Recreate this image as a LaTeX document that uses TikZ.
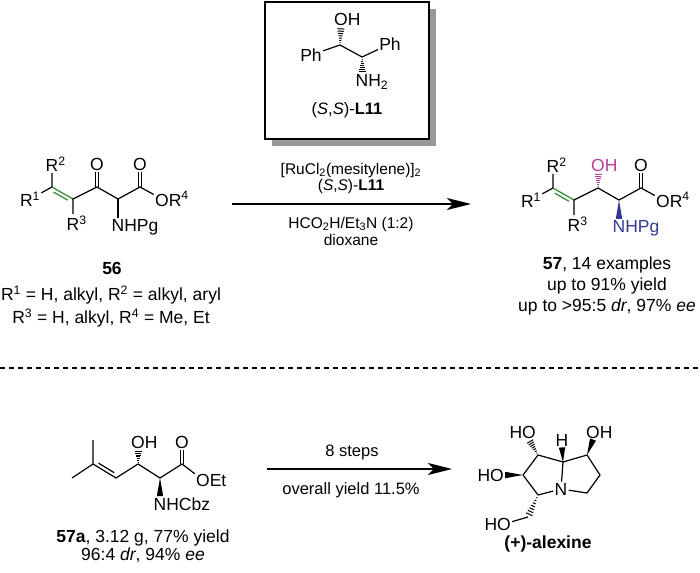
\documentclass[tikz,border=0pt]{standalone}
\usepackage{fontspec}
\setmainfont{Liberation Sans}
\usetikzlibrary{calc,arrows.meta}
\definecolor{dbgreen}{RGB}{52,135,52}
\definecolor{ohpink}{RGB}{186,60,150}
\definecolor{nhblue}{RGB}{48,58,145}
\tikzset{%
  bond/.style = {line width=1.2pt},
  atom/.style = {inner sep=1.2pt, font=\fontsize{17.5}{19}\selectfont},
  note/.style = {inner sep=0pt, font=\fontsize{17.5}{20}\selectfont},
  cond/.style = {inner sep=0pt, font=\fontsize{15.5}{17}\selectfont},
  rxn/.style = {line width=1.4pt, -{Stealth[length=24pt,width=12pt,inset=6pt]}}
}
% hashed bond, narrow end first
\newcommand{\hashbond}[3][black]{%
  \foreach \k [evaluate=\k as \w using 0.5*\k] in {1,...,7}
    \draw[#1, line width=1pt]
      ($(#2)!\k/8!(#3)!\w pt!90:(#3)$) -- ($(#2)!\k/8!(#3)!\w pt!-90:(#3)$);}
% solid wedge, narrow end first
\newcommand{\wedgebond}[3][black]{%
  \fill[#1] (#2) -- ($(#3)!3.2pt!90:(#2)$) -- ($(#3)!3.2pt!-90:(#2)$) -- cycle;}
% second line of a double bond
\newcommand{\innerbond}[5][black]{%
  \draw[bond,#1] ($(#2)!0.16!(#3)!3.6pt!#4:(#3)$) -- ($(#3)!0.16!(#2)!3.6pt!#5:(#2)$);}

\begin{document}
\begin{tikzpicture}[x=1pt,y=-1pt]
\useasboundingbox (0,0) rectangle (700,572);

% ligand box
\fill[black!40] (272,9) rectangle (436,146);
\draw[line width=1.2pt, fill=white] (265,2) rectangle (429,139);
\coordinate (l1) at (340,45);
\coordinate (l2) at (362,57);
\node[atom] (lph1) at (311,55) {Ph};
\node[atom] (lph2) at (390,44) {Ph};
\node[atom] (loh) at (341,19) {O\rlap{H}};
\node[atom] (lnh) at (362,82) {N\rlap{H\textsubscript{2}}};
\draw[bond] (lph1) -- (l1) -- (l2) -- (lph2);
\hashbond{l1}{loh.south}
\hashbond{l2}{lnh.north}
\node[note, font=\fontsize{16.5}{19}\selectfont] (lname) at (347,110) {(\textit{S},\textit{S})-\textbf{L11}};

% substrate 56
\coordinate (a1) at (52,187);
\coordinate (a2) at (73,199);
\coordinate (a3) at (97,187);
\coordinate (a4) at (118,199);
\coordinate (a5) at (140,187);
\node[atom] (ar1) at (30,199) {R\textsuperscript{1}};
\node[atom] (ar2) at (52,164) {R\rlap{\textsuperscript{2}}};
\node[atom] (ar3) at (73,223) {R\rlap{\textsuperscript{3}}};
\node[atom] (ao1) at (97,164) {O};
\node[atom] (ao2) at (140,164) {O};
\node[atom] (ao3) at (162,199) {O\rlap{R\textsuperscript{4}}};
\node[atom] (an) at (118,227) {N\rlap{HPg}};
\draw[bond] (ar1) -- (a1) -- (ar2);
\draw[bond,dbgreen] (a1) -- (a2);
\innerbond[dbgreen]{a1}{a2}{-90}{90}
\draw[bond] (ar3) -- (a2) -- (a3) -- (a4) -- (a5) -- (ao3);
\draw[bond] (a4) -- (an);
\draw[bond] ([xshift=-1.8pt]a3) -- ([xshift=-1.8pt]ao1.south);
\draw[bond] ([xshift=1.8pt]a3) -- ([xshift=1.8pt]ao1.south);
\draw[bond] ([xshift=-1.8pt]a5) -- ([xshift=-1.8pt]ao2.south);
\draw[bond] ([xshift=1.8pt]a5) -- ([xshift=1.8pt]ao2.south);
\node[note] (n56) at (112,268) {\textbf{56}};
\node[note] (r56a) at (111,295) {R\textsuperscript{1} = H, alkyl, R\textsuperscript{2} = alkyl, aryl};
\node[note] (r56b) at (111,318) {R\textsuperscript{3} = H, alkyl, R\textsuperscript{4} = Me, Et};

% reaction arrow
\coordinate (arL) at (232,204);
\coordinate (arR) at (471,204);
\draw[rxn] (arL) -- (arR);
\node[cond] (c1) at (351,170) {[RuCl\textsubscript{2}(mesitylene)]\textsubscript{2}};
\node[cond] (c2) at (351,186) {(\textit{S},\textit{S})-\textbf{L11}};
\node[cond] (c3) at (351,224) {HCO\textsubscript{2}H/Et\textsubscript{3}N (1:2)};
\node[cond] (c4) at (351,240) {dioxane};

% product 57
\coordinate (b1) at (553,188);
\coordinate (b2) at (574,200);
\coordinate (b3) at (598,188);
\coordinate (b4) at (619,200);
\coordinate (b5) at (641,188);
\node[atom] (br1) at (531,200) {R\textsuperscript{1}};
\node[atom] (br2) at (553,165) {R\rlap{\textsuperscript{2}}};
\node[atom] (br3) at (574,224) {R\rlap{\textsuperscript{3}}};
\node[atom,ohpink] (boh) at (598,165) {O\rlap{H}};
\node[atom] (bo2) at (641,165) {O};
\node[atom] (bo3) at (663,200) {O\rlap{R\textsuperscript{4}}};
\node[atom,nhblue] (bn) at (619,228) {N\rlap{HPg}};
\draw[bond] (br1) -- (b1) -- (br2);
\draw[bond,dbgreen] (b1) -- (b2);
\innerbond[dbgreen]{b1}{b2}{-90}{90}
\draw[bond] (br3) -- (b2) -- (b3) -- (b4) -- (b5) -- (bo3);
\hashbond[ohpink]{b3}{boh.south}
\wedgebond[nhblue]{b4}{bn.north}
\draw[bond] ([xshift=-1.8pt]b5) -- ([xshift=-1.8pt]bo2.south);
\draw[bond] ([xshift=1.8pt]b5) -- ([xshift=1.8pt]bo2.south);
\node[note] (n57) at (607,265) {\textbf{57}, 14 examples};
\node[note] (y57) at (607,286) {up to 91\% yield};
\node[note] (s57) at (607,307) {up to >95:5 \textit{dr}, 97\% \textit{ee}};

% separator
\coordinate (sepL) at (0,368);
\coordinate (sepR) at (700,368);
\draw[line width=1.2pt, dash pattern=on 5pt off 4pt] (sepL) -- (sepR);

% 57a
\coordinate (m1) at (72,478);
\coordinate (d1) at (93,464);
\coordinate (m2) at (93,440);
\coordinate (d2) at (116,478);
\coordinate (d3) at (138,464);
\coordinate (d4) at (160,478);
\coordinate (d5) at (182,464);
\node[atom] (doh) at (138,442) {O\rlap{H}};
\node[atom] (do2) at (182,442) {O};
\node[atom] (do3) at (203,480) {O\rlap{Et}};
\node[atom] (dn) at (160,504) {N\rlap{HCbz}};
\draw[bond] (m1) -- (d1) -- (m2);
\draw[bond] (d1) -- (d2) -- (d3) -- (d4) -- (d5) -- (do3);
\innerbond{d1}{d2}{90}{-90}
\hashbond{d3}{doh.south}
\wedgebond{d4}{dn.north}
\draw[bond] ([xshift=-1.8pt]d5) -- ([xshift=-1.8pt]do2.south);
\draw[bond] ([xshift=1.8pt]d5) -- ([xshift=1.8pt]do2.south);
\node[note] (n57a) at (143,538) {\textbf{57a}, 3.12 g, 77\% yield};
\node[note] (s57a) at (143,555) {96:4 \textit{dr}, 94\% \textit{ee}};

% second arrow
\coordinate (brL) at (267,469);
\coordinate (brR) at (452,469);
\draw[rxn] (brL) -- (brR);
\node[note, font=\fontsize{16.5}{19}\selectfont] (t1) at (352,452) {8 steps};
\node[note, font=\fontsize{16.5}{19}\selectfont] (t2) at (351,490) {overall yield 11.5\%};

% alexine
\coordinate (e1) at (538,455);
\coordinate (e8) at (563,462);
\coordinate (e7) at (587,455);
\coordinate (e6) at (600,475);
\coordinate (e5) at (587,493);
\coordinate (e3) at (538,495);
\coordinate (e2) at (523,475);
\coordinate (ech) at (528,517);
\node[atom] (en) at (561,489) {N};
\node[atom] (eho1) at (529,432) {\llap{H}O};
\node[atom] (eh) at (562,440) {H};
\node[atom] (eoh) at (593,432) {O\rlap{H}};
\node[atom] (eho2) at (497,475) {\llap{H}O};
\node[atom] (eho3) at (504,524) {\llap{H}O};
\draw[bond] (e2) -- (e1) -- (e8) -- (en) -- (e3) -- (e2);
\draw[bond] (e8) -- (e7) -- (e6) -- (e5) -- (en);
\hashbond{e1}{eho1.south}
\wedgebond{e8}{eh.south}
\wedgebond{e7}{eoh.south}
\wedgebond{e2}{eho2.east}
\hashbond{e3}{ech}
\draw[bond] (ech) -- (eho3);
\node[note] (ename) at (548,544) {\textbf{(+)-alexine}};
\end{tikzpicture}
\end{document}
